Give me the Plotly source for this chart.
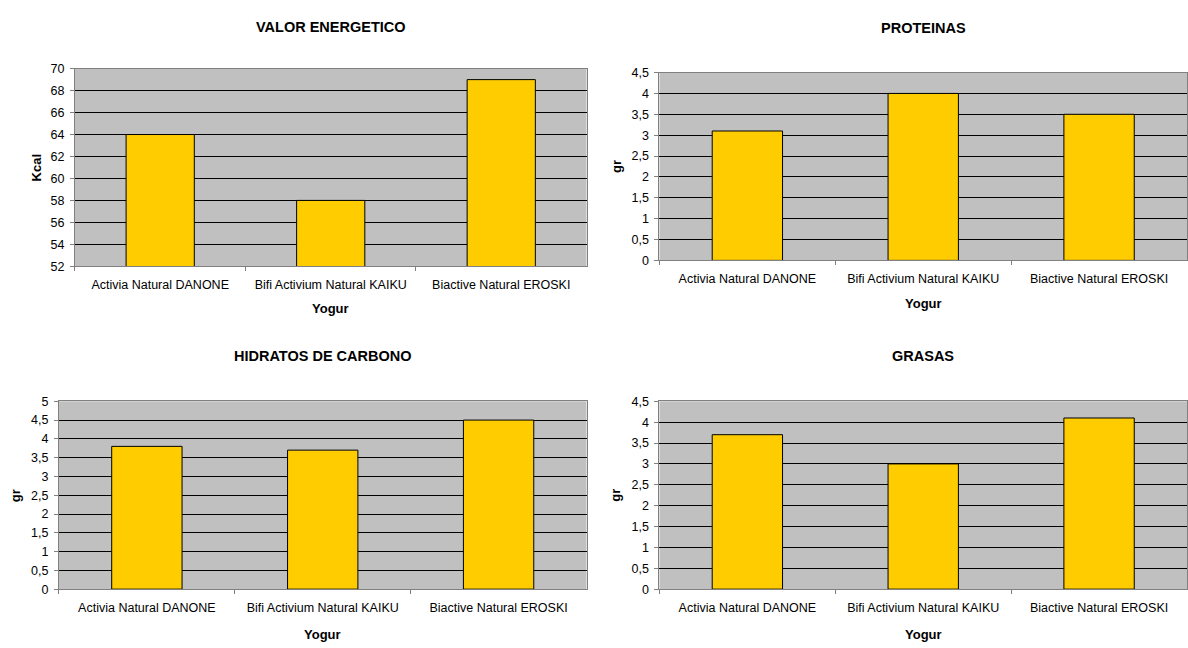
import plotly.graph_objects as go

# ---- data ----
categories = ["Activia Natural DANONE", "Bifi Activium Natural KAIKU", "Biactive Natural EROSKI"]
valor_energetico = [64, 58, 69]
proteinas = [3.1, 4.0, 3.5]
hidratos_carbono = [3.8, 3.7, 4.5]
grasas = [3.7, 3.0, 4.1]

chart_titles = ["VALOR ENERGETICO", "PROTEINAS", "HIDRATOS DE CARBONO", "GRASAS"]
y_titles = ["Kcal", "gr", "gr", "gr"]
x_title = "Yogur"
y_ranges = [[52, 70], [0, 4.5], [0, 5], [0, 4.5]]
y_steps = [2, 0.5, 0.5, 0.5]

W, H = 1188, 648
FONT = "Liberation Sans, Arial, sans-serif"

# layout (pixel boxes of each plot area)
boxes = [
    dict(x0=75, x1=587, y0=63, y1=265, ty=20, ytx=36, xty=308),
    dict(x0=660, x1=1188, y0=67, y1=259, ty=21, ytx=617, xty=303),
    dict(x0=59, x1=587, y0=403, y1=595, ty=357, ytx=15, xty=641),
    dict(x0=660, x1=1188, y0=403, y1=595, ty=357, ytx=616, xty=641),
]
series = [valor_energetico, proteinas, hidratos_carbono, grasas]

fig = go.Figure()
annotations = []

for i, (vals, b) in enumerate(zip(series, boxes)):
    n = "" if i == 0 else str(i + 1)
    xa = "x" + n
    ya = "y" + n
    fig.add_trace(go.Bar(
        x=categories, y=vals, xaxis=xa, yaxis=ya,
        marker=dict(color="#FFCC00", line=dict(color="#000000", width=1)),
        showlegend=False, hoverinfo="x+y",
    ))
    xdom = [b["x0"] / W, b["x1"] / W]
    ydom = [1 - b["y1"] / H, 1 - b["y0"] / H]
    fig.layout["xaxis" + n] = dict(
        domain=xdom, anchor=ya, type="category",
        showline=True, linecolor="#808080", linewidth=1, mirror=True,
        ticks="outside", tickson="boundaries", ticklen=4, tickcolor="#808080",
        showgrid=False, zeroline=False,
        tickfont=dict(family=FONT, size=12.5, color="#000000"),
        ticklabelstandoff=7, fixedrange=True,
    )
    fig.layout["yaxis" + n] = dict(
        domain=ydom, anchor=xa, range=y_ranges[i], dtick=y_steps[i], tick0=0,
        showline=True, linecolor="#808080", linewidth=1, mirror=True,
        ticks="outside", ticklen=4, tickcolor="#808080",
        showgrid=True, gridcolor="#000000", gridwidth=1, zeroline=False,
        tickfont=dict(family=FONT, size=12.5, color="#000000"),
        ticklabelstandoff=3, fixedrange=True,
    )
    # chart title
    annotations.append(dict(
        text="<b>" + chart_titles[i] + "</b>", xref="paper", yref="paper",
        x=(b["x0"] + b["x1"]) / 2 / W, y=1 - b["ty"] / H,
        xanchor="center", yanchor="middle", showarrow=False,
        font=dict(family=FONT, size=14.5, color="#000000"),
    ))
    # x axis title
    annotations.append(dict(
        text="<b>" + x_title + "</b>", xref="paper", yref="paper",
        x=(b["x0"] + b["x1"]) / 2 / W, y=1 - b["xty"] / H,
        xanchor="center", yanchor="middle", showarrow=False,
        font=dict(family=FONT, size=13, color="#000000"),
    ))
    # y axis title
    annotations.append(dict(
        text="<b>" + y_titles[i] + "</b>", xref="paper", yref="paper",
        x=b["ytx"] / W, y=1 - (b["y0"] + b["y1"]) / 2 / H,
        xanchor="center", yanchor="middle", showarrow=False, textangle=-90,
        font=dict(family=FONT, size=13, color="#000000"),
    ))

fig.update_layout(
    width=W, height=H, autosize=False,
    margin=dict(l=0, r=0, t=0, b=0),
    paper_bgcolor="#FFFFFF", plot_bgcolor="#C0C0C0",
    bargap=0.6, separators=",.",
    font=dict(family=FONT, size=12.5, color="#000000"),
    annotations=annotations,
)

fig.write_html("out.html", config={"displayModeBar": False})
